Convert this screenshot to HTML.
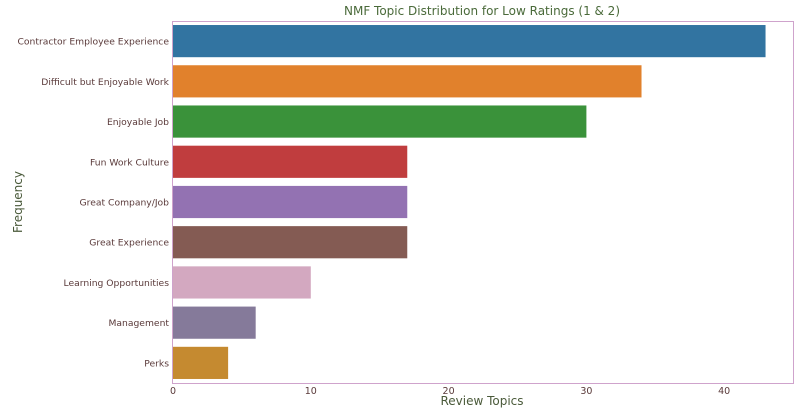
<!DOCTYPE html>
<html><head><meta charset="utf-8"><style>
body{margin:0;background:#fff;width:803px;height:415px;overflow:hidden}
svg text{font-family:"DejaVu Sans","Liberation Sans",sans-serif;}
</style></head><body>
<svg id="chart" width="803" height="415" xmlns="http://www.w3.org/2000/svg">
<text x="482" y="15" text-anchor="middle" font-size="12" fill="#4a6a3a">NMF Topic Distribution for Low Ratings (1 &amp; 2)</text>
<rect x="172.5" y="21.5" width="621" height="362" fill="none" stroke="#cfa3cc" stroke-width="1"/>
<g id="bars"></g><g id="ticks"></g>
<text x="482" y="405" text-anchor="middle" font-size="12" fill="#4a5a3a">Review Topics</text>
<text transform="translate(22,202) rotate(-90)" text-anchor="middle" font-size="12" fill="#4a5a3a">Frequency</text>
</svg>
<script>
const categories=["Contractor Employee Experience","Difficult but Enjoyable Work","Enjoyable Job","Fun Work Culture","Great Company/Job","Great Experience","Learning Opportunities","Management","Perks"];
const values=[43,34,30,17,17,17,10,6,4];
const xTicks=[0,10,20,30,40];
const colors=["#3274a1","#e1812c","#3a923a","#c03d3e","#9372b2","#845b53","#d3a8c0","#857a9a","#c58a30"];
const NS="http://www.w3.org/2000/svg";
const x0=173,pxPer=13.78,plotTop=21,band=362/categories.length;
const xs=v=>x0+v*pxPer;
const bars=document.getElementById('bars'),ticks=document.getElementById('ticks');
categories.forEach((c,i)=>{
 const y=plotTop+i*band+band*0.1;
 const r=document.createElementNS(NS,'rect');
 r.setAttribute('x',x0);r.setAttribute('y',y);r.setAttribute('width',xs(values[i])-x0);r.setAttribute('height',band*0.8);r.setAttribute('fill',colors[i]);
 
 
 bars.appendChild(r);
 const t=document.createElementNS(NS,'text');
 t.setAttribute('x',169);t.setAttribute('y',plotTop+i*band+band/2+3.5);t.setAttribute('text-anchor','end');t.setAttribute('font-size','9.2');t.setAttribute('fill','#5a3a3a');
 t.textContent=c;
 
 
 ticks.appendChild(t);
});
xTicks.forEach(v=>{
 const t=document.createElementNS(NS,'text');
 t.setAttribute('x',xs(v));t.setAttribute('y',394);t.setAttribute('text-anchor','middle');t.setAttribute('font-size','9.5');t.setAttribute('fill','#5a3a3a');
 t.textContent=v;
 
 
 ticks.appendChild(t);
});
</script>
</body></html>
